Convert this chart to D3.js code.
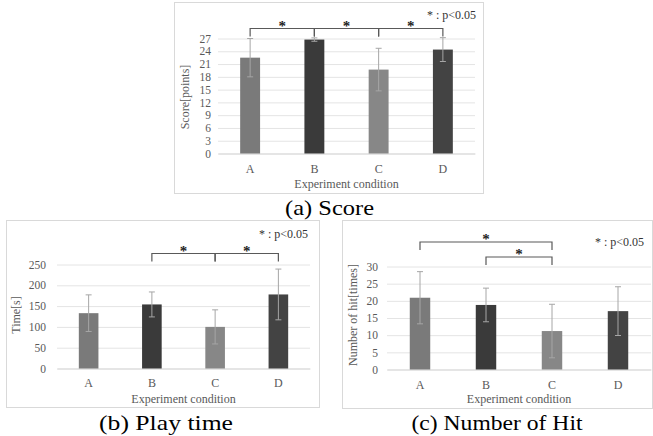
<!DOCTYPE html>
<html>
<head>
<meta charset="utf-8">
<script src="https://cdn.jsdelivr.net/npm/d3@7"></script>
<style>
  body { margin: 0; background: #fff; }
  svg { display: block; }
  svg text { font-family: "Liberation Serif", "Times New Roman", Times, "DejaVu Serif", serif !important; }
</style>
</head>
<body>
<svg id="chart" width="653" height="436"></svg>
<script>
// data
var conditions = ["A", "B", "C", "D"];
var barColors = ["#7a7a7a", "#3a3a3a", "#878787", "#434343"];

var scoreMean = [22.5, 26.75, 19.7, 24.4];
var scoreSd = [4.5, 0.4, 5.0, 2.8];
var scoreTicks = [0, 3, 6, 9, 12, 15, 18, 21, 24, 27];
var scoreSig = [["A", "B"], ["B", "C"], ["C", "D"]];

var timeMean = [133, 154, 100, 178];
var timeSd = [44, 30, 41, 61];
var timeTicks = [0, 50, 100, 150, 200, 250];
var timeSig = [["B", "C"], ["C", "D"]];

var hitMean = [20.9, 18.8, 11.2, 17.0];
var hitSd = [7.6, 4.9, 7.8, 7.1];
var hitTicks = [0, 5, 10, 15, 20, 25, 30];
var hitSig = [["A", "C"], ["B", "C"]];

var svg = d3.select("#chart");

function panel(o) {
  var g = svg.append("g");

  // frame
  g.append("rect")
    .attr("x", o.box[0] + 0.5).attr("y", o.box[1] + 0.5)
    .attr("width", o.box[2]).attr("height", o.box[3])
    .attr("fill", "#fff").attr("stroke", "#d9d9d9");

  var x = d3.scaleBand().domain(conditions).range([o.x0, o.x1]).paddingInner(0.69).paddingOuter(0.345);
  var y = d3.scaleLinear().domain([0, o.ticks[o.ticks.length - 1]]).range([o.y0, o.yTop]);
  var w = o.x1 - o.x0;

  var ya = g.append("g")
    .attr("transform", "translate(" + o.x0 + ",0)")
    .call(d3.axisLeft(y).tickValues(o.ticks).tickSizeInner(-w).tickSizeOuter(0).tickPadding(o.pad));
  ya.select(".domain").remove();
  ya.selectAll("line").attr("stroke", "#e4e4e4");
  ya.selectAll("text").attr("fill", "#595959").style("font-size", "11.5px");

  var xa = g.append("g")
    .attr("transform", "translate(0," + o.y0 + ")")
    .call(d3.axisBottom(x).tickSize(0).tickPadding(o.xpad));
  xa.select(".domain").attr("stroke", "#d9d9d9");
  xa.selectAll("text").attr("fill", "#595959").style("font-size", "12px");

  var rows = conditions.map(function(c, i) { return {c: c, m: o.mean[i], sd: o.sd[i], col: barColors[i]}; });

  g.selectAll(".bar").data(rows).enter().append("rect")
    .attr("x", function(d) { return x(d.c); })
    .attr("y", function(d) { return y(d.m); })
    .attr("width", x.bandwidth())
    .attr("height", function(d) { return o.y0 - y(d.m); })
    .attr("fill", function(d) { return d.col; });

  // error bars
  var cx = function(d) { return x(d.c) + x.bandwidth() / 2; };
  var eb = g.selectAll(".err").data(rows).enter().append("g")
    .attr("stroke", "#a6a6a6").attr("stroke-width", 1);
  eb.append("line")
    .attr("x1", cx).attr("x2", cx)
    .attr("y1", function(d) { return y(d.m + d.sd); })
    .attr("y2", function(d) { return y(d.m - d.sd); });
  [1, -1].forEach(function(k) {
    eb.append("line")
      .attr("x1", function(d) { return cx(d) - 3; })
      .attr("x2", function(d) { return cx(d) + 3; })
      .attr("y1", function(d) { return y(d.m + k * d.sd); })
      .attr("y2", function(d) { return y(d.m + k * d.sd); });
  });

  // significance brackets
  o.sig.forEach(function(s, i) {
    var a = x(s[0]) + x.bandwidth() / 2, b = x(s[1]) + x.bandwidth() / 2;
    var by = o.yTop + o.bracketY[i];
    g.append("path")
      .attr("d", "M" + a + "," + (by + 8) + "V" + by + "H" + b + "V" + (by + 8))
      .attr("fill", "none").attr("stroke", "#595959").attr("stroke-width", 1.2);
    g.append("text")
      .attr("x", (a + b) / 2).attr("y", by + 2)
      .attr("text-anchor", "middle")
      .attr("fill", "#222").style("font-size", "15px").style("font-weight", "bold")
      .text("*");
  });

  g.append("text")
    .attr("x", o.legend[0]).attr("y", o.legend[1])
    .attr("text-anchor", "end").attr("fill", "#333")
    .style("font-size", "12px")
    .text("* : p<0.05");

  g.append("text")
    .attr("transform", "translate(" + o.ylab[0] + "," + o.ylab[1] + ") rotate(-90)")
    .attr("text-anchor", "middle").attr("dy", "0.35em")
    .attr("fill", "#595959").style("font-size", "12px")
    .text(o.ytitle);

  g.append("text")
    .attr("x", (o.x0 + o.x1) / 2).attr("y", o.xlabY)
    .attr("text-anchor", "middle").attr("fill", "#595959").style("font-size", "12px")
    .text("Experiment condition");

  g.append("text")
    .attr("x", o.cap[0] - o.cap[2] / 2).attr("y", o.cap[1])
    .attr("textLength", o.cap[2]).attr("lengthAdjust", "spacingAndGlyphs")
    .attr("fill", "#000").style("font-size", "21px")
    .text(o.caption);
}

panel({
  box: [174, 2, 309, 191], x0: 218, x1: 475, y0: 153.5, yTop: 38.5,
  mean: scoreMean, sd: scoreSd, ticks: scoreTicks, sig: scoreSig,
  bracketY: [-10, -10, -10], pad: 7, xpad: 11,
  legend: [476, 19], ylab: [185, 97], ytitle: "Score[points]", xlabY: 188,
  cap: [329.5, 215, 89], caption: "(a) Score"
});

panel({
  box: [6, 220, 313, 187], x0: 57, x1: 310, y0: 368.5, yTop: 264.5,
  mean: timeMean, sd: timeSd, ticks: timeTicks, sig: timeSig,
  bracketY: [-11, -11], pad: 11, xpad: 10,
  legend: [308, 238], ylab: [16, 315], ytitle: "Time[s]", xlabY: 402.5,
  cap: [166, 430, 134], caption: "(b) Play time"
});

panel({
  box: [342, 220, 310, 188], x0: 387, x1: 651, y0: 369.5, yTop: 266.5,
  mean: hitMean, sd: hitSd, ticks: hitTicks, sig: hitSig,
  bracketY: [-24.5, -9.5], pad: 9, xpad: 11,
  legend: [644, 245.5], ylab: [353, 315], ytitle: "Number of hit[times]", xlabY: 403,
  cap: [497, 430, 171], caption: "(c) Number of Hit"
});
</script>
</body>
</html>
